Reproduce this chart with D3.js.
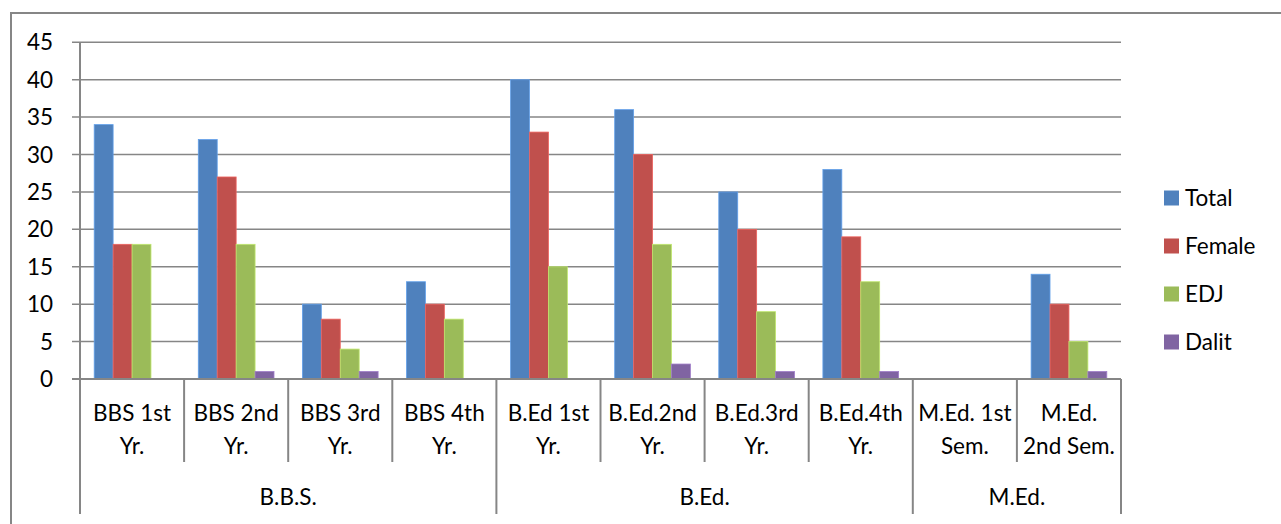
<!DOCTYPE html>
<html>
<head>
<meta charset="utf-8">
<script src="https://cdn.jsdelivr.net/npm/d3@7"></script>
<style>
  html, body { margin: 0; padding: 0; background: #fff; }
  svg { display: block; }
  text { font-family: Lato, "Open Sans", sans-serif; fill: #000; }
</style>
</head>
<body>
<svg id="chart" width="1281" height="524"></svg>
<script>
// Enrollment by programme and year
const categories = [
  "BBS 1st Yr.", "BBS 2nd Yr.", "BBS 3rd Yr.", "BBS 4th Yr.",
  "B.Ed 1st Yr.", "B.Ed.2nd Yr.", "B.Ed.3rd Yr.", "B.Ed.4th Yr.",
  "M.Ed. 1st Sem.", "M.Ed. 2nd Sem."
];
const categoryLines = [
  ["BBS 1st", "Yr."], ["BBS 2nd", "Yr."], ["BBS 3rd", "Yr."], ["BBS 4th", "Yr."],
  ["B.Ed 1st", "Yr."], ["B.Ed.2nd", "Yr."], ["B.Ed.3rd", "Yr."], ["B.Ed.4th", "Yr."],
  ["M.Ed. 1st", "Sem."], ["M.Ed.", "2nd Sem."]
];
const groups = ["B.B.S.", "B.Ed.", "M.Ed."];
const groupSizes = [4, 4, 2];

const seriesNames = ["Total", "Female", "EDJ", "Dalit"];
const seriesColors = ["#4F81BD", "#C0504D", "#9BBB59", "#8064A2"];
const total  = [34, 32, 10, 13, 40, 36, 25, 28, 0, 14];
const female = [18, 27,  8, 10, 33, 30, 20, 19, 0, 10];
const edj    = [18, 18,  4,  8, 15, 18,  9, 13, 0,  5];
const dalit  = [ 0,  1,  1,  0,  0,  2,  1,  1, 0,  1];
const seriesValues = [total, female, edj, dalit];
const yTicks = [0, 5, 10, 15, 20, 25, 30, 35, 40, 45];

const svg = d3.select("#chart");
const axisColor = "#868686";
const fontSize = "22.5px";

const plot = { left: 80, right: 1121, top: 42.3, bottom: 379 };

const x = d3.scaleBand()
  .domain(categories)
  .range([plot.left, plot.right])
  .paddingInner(0).paddingOuter(0);

const xs = d3.scaleBand()
  .domain(seriesNames)
  .range([0, x.bandwidth()])
  .paddingInner(0).paddingOuter(0.75);

const y = d3.scaleLinear()
  .domain([0, 45])
  .range([plot.bottom, plot.top]);

// outer chart border
svg.append("rect")
  .attr("x", 11).attr("y", 13)
  .attr("width", 1300).attr("height", 540)
  .attr("fill", "none")
  .attr("stroke", axisColor)
  .attr("stroke-width", 2);

// horizontal gridlines with tick stubs
svg.append("g").selectAll("line")
  .data(yTicks.filter(d => d > 0))
  .join("line")
  .attr("x1", plot.left - 8).attr("x2", plot.right)
  .attr("y1", d => y(d)).attr("y2", d => y(d))
  .attr("stroke", axisColor).attr("stroke-width", 1.5);

// y tick labels
svg.append("g").selectAll("text")
  .data(yTicks)
  .join("text")
  .attr("x", 53)
  .attr("y", d => y(d))
  .attr("dy", "0.36em")
  .attr("text-anchor", "end")
  .style("font-size", fontSize)
  .text(d => d);

// bars
const barG = svg.append("g");
seriesNames.forEach((name, si) => {
  barG.append("g").selectAll("rect")
    .data(categories.map((c, i) => ({ c, v: seriesValues[si][i] })).filter(d => d.v > 0))
    .join("rect")
    .attr("x", d => x(d.c) + xs(name))
    .attr("y", d => y(d.v))
    .attr("width", xs.bandwidth())
    .attr("height", d => y(0) - y(d.v))
    .attr("fill", seriesColors[si])
    .attr("stroke", d3.color(seriesColors[si]).brighter(0.6))
    .attr("stroke-width", 0.8);
});

// value axis line
svg.append("line")
  .attr("x1", plot.left).attr("x2", plot.left)
  .attr("y1", y(45)).attr("y2", 514)
  .attr("stroke", axisColor).attr("stroke-width", 2);

// category axis line
svg.append("line")
  .attr("x1", plot.left - 8).attr("x2", plot.right)
  .attr("y1", y(0)).attr("y2", y(0))
  .attr("stroke", axisColor).attr("stroke-width", 2);

// group boundaries
const groupStarts = [];
let acc = 0;
groupSizes.forEach(n => { groupStarts.push(acc); acc += n; });
const boundaryIdx = new Set(groupStarts.concat([categories.length]));

// category separators (short for inner, long for group edges)
const sepX = d3.range(categories.length + 1).map(i =>
  i < categories.length ? x(categories[i]) : x(categories[i - 1]) + x.bandwidth());
svg.append("g").selectAll("line")
  .data(sepX.map((v, i) => ({ v, i })).filter(d => d.i > 0))
  .join("line")
  .attr("x1", d => d.v).attr("x2", d => d.v)
  .attr("y1", y(0))
  .attr("y2", d => boundaryIdx.has(d.i) ? 514 : 462)
  .attr("stroke", axisColor).attr("stroke-width", 2);

// category labels (two lines)
const catG = svg.append("g");
categories.forEach((c, i) => {
  const cx = x(c) + x.bandwidth() / 2;
  categoryLines[i].forEach((ln, li) => {
    catG.append("text")
      .attr("x", cx)
      .attr("y", 421 + li * 32.5)
      .attr("text-anchor", "middle")
      .style("font-size", fontSize)
      .text(ln);
  });
});

// group labels
groups.forEach((g, gi) => {
  const start = x(categories[groupStarts[gi]]);
  const last = categories[groupStarts[gi] + groupSizes[gi] - 1];
  const end = x(last) + x.bandwidth();
  svg.append("text")
    .attr("x", (start + end) / 2)
    .attr("y", 505)
    .attr("text-anchor", "middle")
    .style("font-size", fontSize)
    .text(g);
});

// legend
const legend = svg.append("g");
seriesNames.forEach((name, i) => {
  const cy = 198 + i * 48;
  legend.append("rect")
    .attr("x", 1164).attr("y", cy - 7.5)
    .attr("width", 15).attr("height", 15)
    .attr("fill", seriesColors[i]);
  legend.append("text")
    .attr("x", 1185).attr("y", cy)
    .attr("dy", "0.36em")
    .style("font-size", fontSize)
    .text(name);
});
</script>
</body>
</html>
